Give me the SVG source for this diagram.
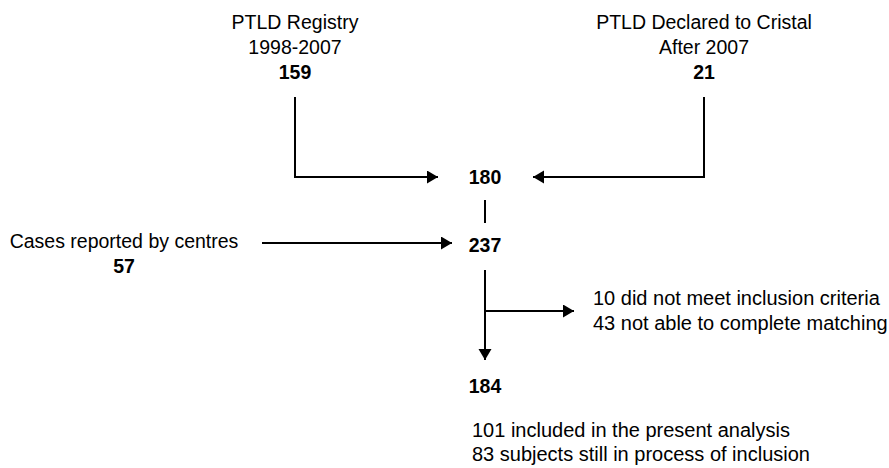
<svg xmlns="http://www.w3.org/2000/svg" width="889" height="468" viewBox="0 0 889 468">
  <style>
    text { font-family: "Liberation Sans", Arial, sans-serif; font-size: 19.5px; fill: #000; }
    .b { font-weight: bold; }
    .c { text-anchor: middle; }
    .w { font-size: 20px; }
    .ln { fill: none; stroke: #000; stroke-width: 2; }
  </style>
  <defs>
    <marker id="ah" markerUnits="userSpaceOnUse" markerWidth="12" markerHeight="14" refX="11" refY="6.5" orient="auto">
      <path d="M0,0 L11,6.5 L0,13 Z" fill="#000"/>
    </marker>
  </defs>
  <rect width="889" height="468" fill="#fff"/>

  <g id="registry">
    <text class="c" x="295" y="29">PTLD Registry</text>
    <text class="c" x="295" y="54">1998-2007</text>
    <text class="c b" x="295" y="79">159</text>
  </g>
  <g id="cristal">
    <text class="c" x="704" y="29">PTLD Declared to Cristal</text>
    <text class="c" x="704" y="54">After 2007</text>
    <text class="c b" x="704" y="79">21</text>
  </g>
  <g id="n180">
    <text class="c b" x="485" y="184">180</text>
  </g>
  <g id="centres">
    <text class="c" x="124" y="248">Cases reported by centres</text>
    <text class="c b" x="124" y="273">57</text>
  </g>
  <g id="n237">
    <text class="c b" x="485" y="252">237</text>
  </g>
  <g id="excluded">
    <text class="w" x="593" y="305">10 did not meet inclusion criteria</text>
    <text class="w" x="593" y="330">43 not able to complete matching</text>
  </g>
  <g id="n184">
    <text class="c b" x="485" y="393">184</text>
  </g>
  <g id="outcome">
    <text class="w" x="472" y="437">101 included in the present analysis</text>
    <text class="w" x="472" y="461">83 subjects still in process of inclusion</text>
  </g>

  <g id="connectors">
    <path class="ln" d="M295,97 V177 H438" marker-end="url(#ah)"/>
    <path class="ln" d="M704,97 V177 H533" marker-end="url(#ah)"/>
    <path class="ln" d="M485,200 V223"/>
    <path class="ln" d="M262,243 H452" marker-end="url(#ah)"/>
    <path class="ln" d="M485,270 V360" marker-end="url(#ah)"/>
    <path class="ln" d="M485,311 H574" marker-end="url(#ah)"/>
  </g>
</svg>
